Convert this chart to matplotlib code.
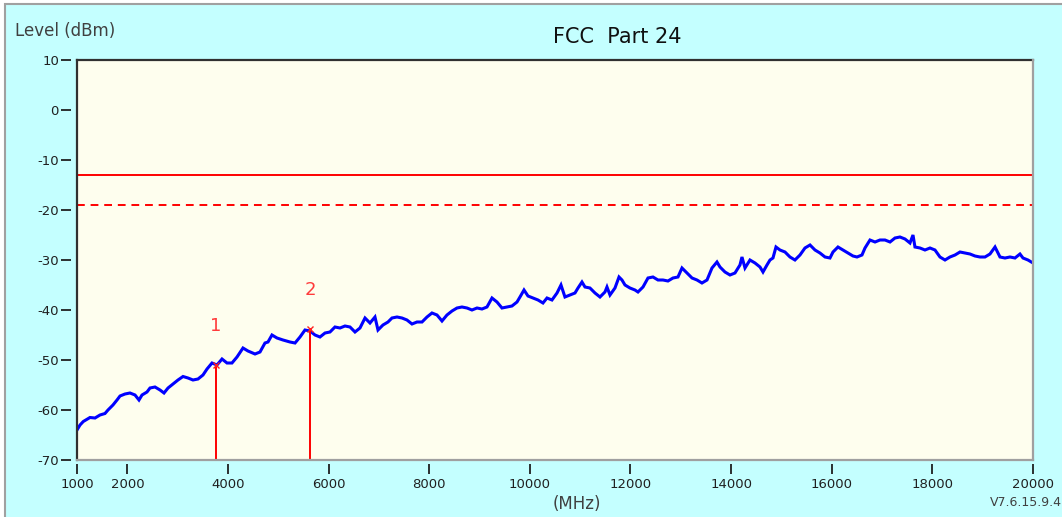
import matplotlib
matplotlib.use("Agg")
import matplotlib.pyplot as plt
from matplotlib.patches import Rectangle

# Measured spectrum trace (MHz, dBm)
freq_mhz = [1000, 1060, 1125, 1258, 1358, 1457, 1556, 1616, 1715, 1795, 1855, 1954,
            2053, 2153, 2232, 2292, 2391, 2451, 2550, 2650, 2729, 2809, 2908, 3007,
            3107, 3206, 3305, 3405, 3504, 3584, 3683, 3782, 3882, 3981, 4080, 4180,
            4299, 4398, 4538, 4637, 4736, 4796, 4875, 4975, 5094, 5233, 5333, 5432,
            5531, 5631, 5730, 5829, 5929, 6028, 6127, 6227, 6326, 6426, 6525, 6624,
            6724, 6823, 6922, 6982, 7081, 7181, 7260, 7360, 7459, 7558, 7658, 7757,
            7857, 7956, 8055, 8155, 8254, 8353, 8453, 8552, 8651, 8751, 8850, 8950,
            9049, 9148, 9248, 9347, 9446, 9546, 9645, 9745, 9804, 9884, 9963, 10063,
            10162, 10261, 10341, 10440, 10540, 10619, 10698, 10798, 10897, 10957,
            11036, 11096, 11195, 11295, 11394, 11493, 11533, 11593, 11692, 11772,
            11831, 11891, 11990, 12089, 12149, 12249, 12348, 12447, 12547, 12646,
            12745, 12845, 12944, 13024, 13123, 13223, 13322, 13421, 13521, 13620,
            13719, 13779, 13878, 13978, 14077, 14176, 14216, 14276, 14375, 14475,
            14574, 14634, 14713, 14773, 14832, 14892, 14971, 15071, 15170, 15269,
            15369, 15468, 15568, 15667, 15766, 15866, 15965, 16025, 16124, 16223,
            16323, 16422, 16502, 16601, 16661, 16760, 16860, 16959, 17058, 17158,
            17257, 17356, 17456, 17555, 17615, 17654, 17754, 17853, 17953, 18052,
            18151, 18251, 18350, 18450, 18549, 18648, 18748, 18847, 18946, 19046,
            19145, 19245, 19344, 19443, 19543, 19642, 19741, 19801, 19900, 20000]
level_dbm = [-64.0, -63.0, -62.3, -61.5, -61.6, -61.0, -60.7, -60.0, -59.0, -58.0, -57.2, -56.8,
             -56.6, -57.0, -58.0, -57.0, -56.4, -55.6, -55.4, -56.0, -56.6, -55.6, -54.8, -54.0,
             -53.3, -53.6, -54.0, -53.8, -53.0, -51.8, -50.6, -51.0, -49.8, -50.6, -50.6, -49.4,
             -47.6, -48.2, -48.8, -48.4, -46.6, -46.4, -45.0, -45.6, -46.0, -46.4, -46.6, -45.4,
             -44.0, -44.2, -45.0, -45.4, -44.6, -44.4, -43.4, -43.6, -43.2, -43.4, -44.4, -43.6,
             -41.6, -42.6, -41.4, -44.0, -43.0, -42.4, -41.6, -41.4, -41.6, -42.0, -42.8, -42.4,
             -42.4, -41.4, -40.6, -41.0, -42.2, -41.0, -40.2, -39.6, -39.4, -39.6, -40.0, -39.6,
             -39.8, -39.4, -37.6, -38.4, -39.6, -39.4, -39.2, -38.4, -37.4, -36.0, -37.2, -37.6,
             -38.0, -38.6, -37.6, -38.0, -36.6, -35.0, -37.4, -37.0, -36.6, -35.6,
             -34.4, -35.4, -35.6, -36.6, -37.4, -36.4, -35.4, -37.0, -35.6, -33.4,
             -34.0, -35.0, -35.6, -36.0, -36.4, -35.4, -33.6, -33.4, -34.0, -34.0,
             -34.2, -33.6, -33.4, -31.6, -32.6, -33.6, -34.0, -34.6, -34.0, -31.6,
             -30.4, -31.4, -32.4, -33.0, -32.6, -31.0, -29.4, -31.6, -30.0, -30.6,
             -31.4, -32.4, -31.0, -30.0, -29.6, -27.4, -28.0, -28.4, -29.4, -30.0,
             -29.0, -27.6, -27.0, -28.0, -28.6, -29.4, -29.6, -28.4, -27.4, -28.0,
             -28.6, -29.2, -29.4, -29.0, -27.6, -26.0, -26.4, -26.0, -26.0, -26.4,
             -25.6, -25.4, -25.8, -26.6, -25.0, -27.4, -27.6, -28.0, -27.6, -28.0,
             -29.4, -30.0, -29.4, -29.0, -28.4, -28.6, -28.8, -29.2, -29.4, -29.4,
             -28.8, -27.4, -29.4, -29.6, -29.4, -29.6, -28.8, -29.6, -30.0, -30.6]

# Limit lines (dBm)
limit_level = -13.0
margin_level = -19.0

# Peak markers
marker_ids = ["1", "2"]
marker_freq = [3760, 5630]
marker_level = [-51.0, -43.7]

x_ticks = [1000, 2000, 4000, 6000, 8000, 10000, 12000, 14000, 16000, 18000, 20000]
y_ticks = [10, 0, -10, -20, -30, -40, -50, -60, -70]

W, H = 1062, 517
fig = plt.figure(figsize=(W / 100, H / 100), dpi=100, facecolor="white")

# Panel background with a thin grey frame on the left and top
fig.patches.append(Rectangle((5 / W, -0.05), 1.1, 1.05 - 4 / H, transform=fig.transFigure,
                             facecolor="#C4FFFF", edgecolor="#A0A0A0", linewidth=1.5,
                             zorder=-10))

ax = fig.add_axes([77 / W, 1 - 460 / H, (1033 - 77) / W, 400 / H])
ax.set_facecolor("#FEFEEE")
ax.set_xlim(1000, 20000)
ax.set_ylim(-70, 10)

ax.plot(freq_mhz, level_dbm, color="#0000FF", linewidth=2.2, solid_joinstyle="miter", zorder=3)

ax.axhline(limit_level, color="#FF0000", linewidth=1.4, zorder=2)
ax.axhline(margin_level, color="#FF0000", linewidth=1.4, linestyle=(0, (4, 3)), zorder=2)

for mid, mf, ml in zip(marker_ids, marker_freq, marker_level):
    ax.plot([mf, mf], [-70, ml], color="#FF0000", linewidth=1.4, zorder=4)
    ax.plot([mf], [ml], marker="x", color="#FF2020", markersize=5, mew=1.0, zorder=5)
    ax.annotate(mid, xy=(mf, ml), xytext=(0, 28), textcoords="offset points",
                ha="center", va="center", color="#FF3B3B", fontsize=13,
                family="DejaVu Sans")

# Frame: dark left/top, light bottom/right
for s in ax.spines.values():
    s.set_visible(False)
ax.spines["left"].set_position(("outward", 4))
ax.spines["bottom"].set_position(("outward", 3))
ax.plot([0, 0], [0, 1], transform=ax.transAxes, color="#303030", lw=1.6, clip_on=False, zorder=6)
ax.plot([0, 1], [1, 1], transform=ax.transAxes, color="#303030", lw=1.6, clip_on=False, zorder=6)
ax.plot([0, 1], [0, 0], transform=ax.transAxes, color="#A0A0A0", lw=1.6, clip_on=False, zorder=6)
ax.plot([1, 1], [0, 1], transform=ax.transAxes, color="#A0A0A0", lw=1.6, clip_on=False, zorder=6)

ax.set_xticks(x_ticks)
ax.set_xticklabels([str(v) for v in x_ticks])
ax.set_yticks(y_ticks)
ax.set_yticklabels([str(v) for v in y_ticks])
ax.tick_params(axis="both", direction="out", length=7, width=1.3, color="#202020",
               labelsize=9.5, labelcolor="#202020")
ax.tick_params(axis="x", pad=3)
ax.tick_params(axis="y", pad=2)

fig.text(617 / W, 1 - 37 / H, "FCC  Part 24", ha="center", va="center",
         fontsize=15, color="#101010")
fig.text(15 / W, 1 - 31 / H, "Level (dBm)", ha="left", va="center",
         fontsize=12, color="#404040")
fig.text(577 / W, 1 - 504 / H, "(MHz)", ha="center", va="center",
         fontsize=12, color="#404040")
fig.text(990 / W, 1 - 503 / H, "V7.6.15.9.4", ha="left", va="center",
         fontsize=9, color="#404040")

fig.savefig("out.png", dpi=100, facecolor=fig.get_facecolor())
